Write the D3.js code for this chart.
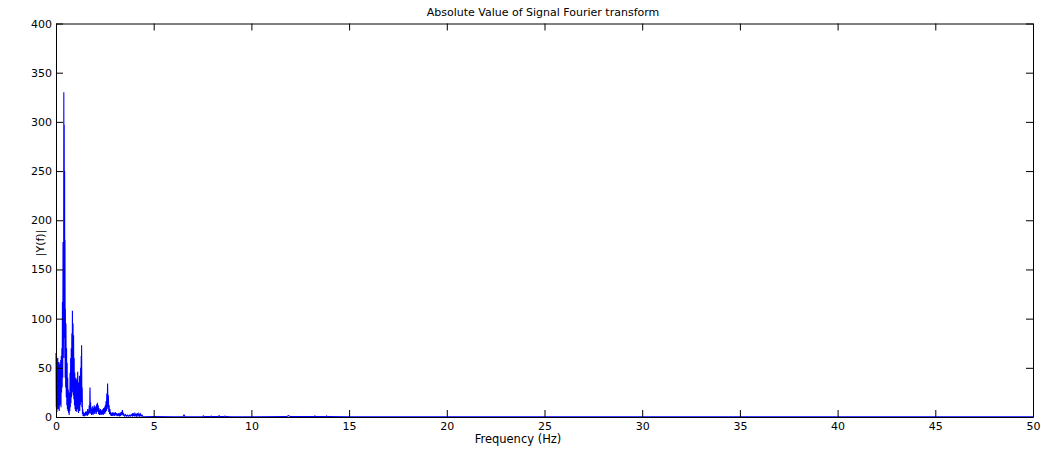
<!DOCTYPE html>
<html>
<head>
<meta charset="utf-8">
<script src="https://cdn.jsdelivr.net/npm/d3@7"></script>
<style>
  html, body { margin: 0; padding: 0; background: #ffffff; }
  svg { display: block; }
  text { font-family: "DejaVu Sans", sans-serif; font-size: 11px; fill: #000; }
</style>
</head>
<body>
<svg id="chart" width="1041" height="450"></svg>
<script>
// ---- data ----
const title = "Absolute Value of Signal Fourier transform";
const xLabel = "Frequency (Hz)";
const yLabel = "|Y(f)|";
const xTicks = [0, 5, 10, 15, 20, 25, 30, 35, 40, 45, 50];
const yTicks = [0, 50, 100, 150, 200, 250, 300, 350, 400];

// Spectrum: frequency (Hz) and |Y(f)|
const freqHz = [
  0.00,0.015,0.03,0.045,0.06,0.075,0.09,0.105,0.12,0.135,0.15,0.165,0.18,0.195,0.21,0.225,0.24,0.255,0.27,0.285,
  0.30,0.315,0.33,0.345,0.36,0.375,0.39,0.40,0.41,0.42,0.43,0.44,0.45,0.46,0.47,0.48,0.495,0.51,0.525,0.54,
  0.555,0.57,0.585,0.60,0.615,0.63,0.645,0.66,0.675,0.69,0.705,0.72,0.735,0.75,0.765,0.78,0.795,0.81,0.825,0.84,
  0.855,0.87,0.885,0.90,0.915,0.93,0.945,0.96,0.975,0.99,1.005,1.02,1.035,1.05,1.065,1.08,1.095,1.11,1.125,1.14,
  1.155,1.17,1.185,1.20,1.215,1.23,1.245,1.26,1.275,1.29,1.305,1.31,1.325,1.34,1.355,1.37,1.385,1.40,1.415,1.43,
  1.445,1.46,1.48,1.50,1.52,1.54,1.56,1.58,1.60,1.62,1.64,1.66,1.68,1.70,1.72,1.74,1.755,1.77,1.785,1.80,
  1.82,1.84,1.86,1.88,1.90,1.92,1.94,1.96,1.98,2.00,2.02,2.04,2.06,2.08,2.10,2.12,2.14,2.16,2.18,2.20,
  2.22,2.24,2.26,2.28,2.30,2.32,2.34,2.36,2.38,2.40,2.42,2.44,2.46,2.48,2.50,2.52,2.54,2.56,2.58,2.60,
  2.62,2.64,2.66,2.68,2.70,2.72,2.74,2.76,2.78,2.80,2.82,2.85,2.88,2.91,2.94,2.97,3.00,3.03,3.06,3.09,
  3.12,3.15,3.18,3.21,3.24,3.27,3.30,3.33,3.36,3.40,3.43,3.46,3.50,3.55,3.60,3.65,3.70,3.75,3.80,3.85,
  3.90,3.93,3.96,4.00,4.04,4.08,4.12,4.16,4.20,4.24,4.28,4.32,4.36,4.40,4.45,4.50,
  5.0,6.0,6.5,6.55,6.6,7.0,7.5,7.55,7.6,7.9,7.95,8.0,8.3,8.35,8.4,8.6,8.65,8.7,9.0,10.0,
  11.8,11.9,12.0,13.2,13.25,13.3,13.8,13.85,13.9,15.0,20.0,30.0,40.0,50.0
];
const amplitude = [
  65,10,62,5,55,14,60,8,50,18,56,6,48,12,54,20,58,10,62,25,
  70,30,117,40,178,60,110,330,90,297,80,250,60,180,40,110,30,95,20,70,
  12,55,8,40,6,28,4,15,2,25,6,45,10,60,14,70,20,85,25,108,
  30,95,22,83,18,60,12,45,8,35,6,40,10,32,5,38,12,46,8,35,
  4,30,10,42,6,36,12,50,15,62,20,73,10,30,3,8,1,5,1,4,
  0.5,3,1,5,1.5,6,2,5,1,8,2,6,3,12,4,30,6,15,3,10,
  2,8,3,11,2,9,4,12,3,10,5,11,3,13,5,14.5,6,12,3,9,
  2,7,2,8,3,6,2,7,3,8,2,9,4,10,3,12,5,16,6,24,
  8,34,10,22,5,12,3,8,2,5,1,4,1,5,1.5,4,1,5,2,4,
  1,3.5,1,4,1.5,3,1,5,2,7,1.5,3,1,2.5,0.8,2,0.6,2,0.8,2.5,
  1,4,1,3.5,1,3,0.8,4,1,3.5,1,3,0.8,2,0.5,0.3,
  0.4,0.3,0.4,2,0.4,0.3,0.5,1.2,0.4,0.5,1,0.4,0.5,1.3,0.4,0.5,1,0.4,0.3,0.3,
  0.4,1.5,0.4,0.4,1,0.4,0.4,1,0.4,0.3,0.25,0.2,0.2,0.2
];

// ---- layout ----
const svg = d3.select("#chart");
const plot = { left: 56, right: 1033, top: 23.5, bottom: 417 };
const tickLen = 7;

const x = d3.scaleLinear().domain([0, 50]).range([plot.left, plot.right]);
const y = d3.scaleLinear().domain([0, 400]).range([plot.bottom, plot.top]);

// data line
const pts = freqHz.map((f, i) => [f, amplitude[i]]);
const line = d3.line().x(d => x(d[0])).y(d => y(d[1]));
svg.append("path")
  .datum(pts)
  .attr("d", line)
  .attr("fill", "none")
  .attr("stroke", "#0000ff")
  .attr("stroke-width", 1.1)
  .attr("stroke-linejoin", "miter");

// axes (inward ticks, box on all sides)
const gB = svg.append("g").attr("transform", `translate(0,${plot.bottom})`)
  .call(d3.axisBottom(x).tickValues(xTicks).tickSizeInner(-tickLen).tickSizeOuter(0).tickPadding(5));
const gT = svg.append("g").attr("transform", `translate(0,${plot.top})`)
  .call(d3.axisTop(x).tickValues(xTicks).tickSizeInner(-tickLen).tickSizeOuter(0).tickFormat(""));
const gL = svg.append("g").attr("transform", `translate(${plot.left},0)`)
  .call(d3.axisLeft(y).tickValues(yTicks).tickSizeInner(-tickLen).tickSizeOuter(0).tickPadding(4));
const gR = svg.append("g").attr("transform", `translate(${plot.right},0)`)
  .call(d3.axisRight(y).tickValues(yTicks).tickSizeInner(-tickLen).tickSizeOuter(0).tickFormat(""));

[gB, gT, gL, gR].forEach(g => {
  g.selectAll(".domain").attr("stroke", "#000").attr("stroke-width", 1);
  g.selectAll(".tick line").attr("stroke", "#000").attr("stroke-width", 1);
  g.selectAll("text").attr("font-family", "DejaVu Sans, sans-serif").attr("font-size", 11).attr("fill", "#000");
});

// title & labels
svg.append("text")
  .attr("x", 543).attr("y", 16)
  .attr("text-anchor", "middle")
  .text(title);
svg.append("text")
  .attr("x", 518).attr("y", 443)
  .attr("text-anchor", "middle")
  .style("font-size", "11.5px")
  .text(xLabel);
svg.append("text")
  .attr("transform", "translate(44,243) rotate(-90)")
  .attr("text-anchor", "middle")
  .text(yLabel);
</script>
</body>
</html>
